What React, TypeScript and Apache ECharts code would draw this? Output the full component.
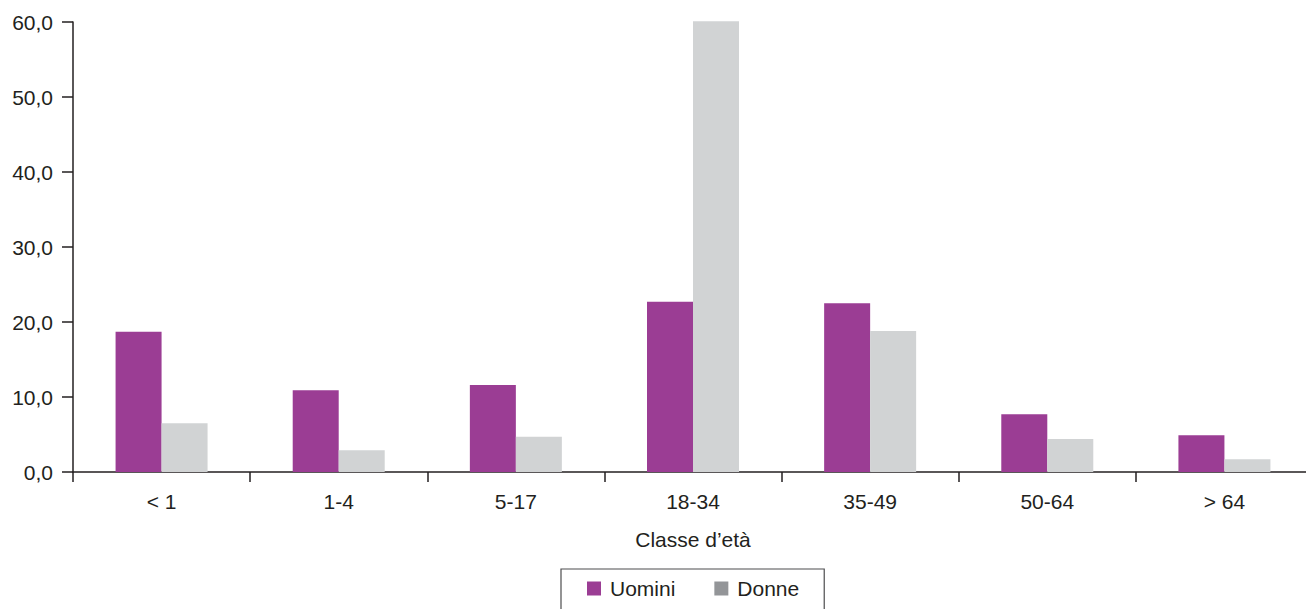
import React, { useEffect, useRef } from "react";
import * as echarts from "echarts";

const categories = ["< 1", "1-4", "5-17", "18-34", "35-49", "50-64", "> 64"];
const uomini = [18.7, 10.9, 11.6, 22.7, 22.5, 7.7, 4.9];
const donne = [6.5, 2.9, 4.7, 60.1, 18.8, 4.4, 1.7];
const seriesNames = ["Uomini", "Donne"];
const xAxisTitle = "Classe d’età";

const FONT = "'Liberation Sans', Arial, Helvetica, sans-serif";
const INK = "#231f20";
const FS = 21;

export default function App() {
  const ref = useRef<HTMLDivElement>(null);
  useEffect(() => {
    if (!ref.current) return;
    const chart = echarts.init(ref.current, null, { renderer: "svg" });
    chart.setOption({
      animation: false,
      textStyle: { fontFamily: FONT },
      grid: { left: 73, top: 22, right: 0, bottom: 137, containLabel: false },
      legend: {
        data: [
          { name: seriesNames[0], itemStyle: { color: "#9b3d94" } },
          { name: seriesNames[1], itemStyle: { color: "#939598" } },
        ],
        left: 561,
        top: 569,
        padding: [9, 25, 13, 26],
        borderColor: "#4d4d4f",
        borderWidth: 1.2,
        itemWidth: 14,
        itemHeight: 14,
        itemGap: 39,
        icon: "rect",
        textStyle: { fontSize: FS, color: INK, fontFamily: FONT, padding: [0, 0, 0, 4] },
      },
      xAxis: {
        type: "category",
        data: categories,
        name: xAxisTitle,
        nameLocation: "middle",
        nameGap: 57,
        nameTextStyle: { fontSize: FS, color: INK, fontFamily: FONT },
        axisLine: { show: true, lineStyle: { color: INK, width: 1.5 } },
        axisTick: { show: true, length: 10, lineStyle: { color: INK, width: 1.5 } },
        axisLabel: { fontSize: FS, color: INK, margin: 19, fontFamily: FONT },
        splitLine: { show: false },
      },
      yAxis: {
        type: "value",
        min: 0,
        max: 60,
        interval: 10,
        axisLine: { show: true, lineStyle: { color: INK, width: 1.5 } },
        axisTick: { show: true, length: 11, lineStyle: { color: INK, width: 1.5 } },
        axisLabel: {
          fontSize: FS,
          color: INK,
          margin: 20,
          fontFamily: FONT,
          formatter: (v: number) => v.toFixed(1).replace(".", ","),
        },
        splitLine: { show: false },
      },
      series: [
        {
          name: seriesNames[0],
          type: "bar",
          data: uomini,
          barWidth: 46,
          barGap: "0%",
          clip: false,
          itemStyle: { color: "#9b3d94" },
        },
        {
          name: seriesNames[1],
          type: "bar",
          data: donne,
          barWidth: 46,
          barGap: "0%",
          clip: false,
          itemStyle: { color: "#d1d3d4" },
        },
      ],
    });
    return () => chart.dispose();
  }, []);
  return (
    <div
      style={{
        position: "absolute",
        left: 0,
        top: 0,
        width: 1306,
        height: 609,
        overflow: "hidden",
        background: "#fff",
      }}
    >
      <div ref={ref} style={{ width: 1313, height: 609 }} />
    </div>
  );
}
